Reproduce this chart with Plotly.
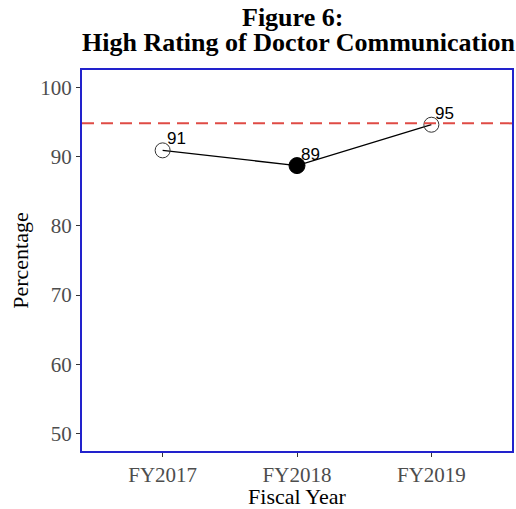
import plotly.graph_objects as go

years = ["FY2017", "FY2018", "FY2019"]
values = [90.9, 88.7, 94.6]
labels = ["91", "89", "95"]
benchmark = 94.8
y_ticks = [50, 60, 70, 80, 90, 100]
title_lines = ["Figure 6:", "High Rating of Doctor Communication"]

xs = list(range(len(years)))
serif = "Liberation Serif, Times New Roman, serif"
sans = "Liberation Sans, Arial, sans-serif"

fig = go.Figure()
fig.add_hline(y=benchmark, line=dict(color="#df4b45", width=2, dash="12px,7px"))
fig.add_trace(go.Scatter(
    x=xs, y=values, mode="lines+markers",
    line=dict(color="black", width=1.3),
    marker=dict(symbol=["circle-open", "circle", "circle-open"],
                size=[15, 16, 15], color=["#333333", "#000000", "#333333"],
                opacity=1,
                line=dict(color=["#333333", "#000000", "#333333"], width=1)),
    showlegend=False, hoverinfo="skip"))

for x, v, t in zip(xs, values, labels):
    fig.add_annotation(x=x, y=v, text=t, showarrow=False,
                       xanchor="left", yanchor="bottom", xshift=2, yshift=0,
                       font=dict(family=sans, size=17, color="black"))

fig.add_annotation(x=0.49, y=1.1365, xref="paper", yref="paper",
                   text="<b>%s</b>" % title_lines[0], showarrow=False,
                   xanchor="center", yanchor="middle",
                   font=dict(family=serif, size=26, color="black"))
fig.add_annotation(x=0.503, y=1.0709, xref="paper", yref="paper",
                   text="<b>%s</b>" % title_lines[1], showarrow=False,
                   xanchor="center", yanchor="middle",
                   font=dict(family=serif, size=26, color="black"))

fig.update_layout(
    width=516, height=509,
    margin=dict(l=82, r=4, t=70, b=58, autoexpand=False),
    paper_bgcolor="white", plot_bgcolor="white",
    hovermode=False,
    xaxis=dict(range=[-0.6, 2.6], tickvals=xs, ticktext=years,
               showgrid=False, zeroline=False,
               showline=True, linecolor="#2222cc", linewidth=2, mirror=True,
               ticks="outside", ticklen=4, tickcolor="#333333",
               tickfont=dict(family=serif, size=21, color="#4d4d4d"),
               title=dict(text="Fiscal Year", standoff=9,
                          font=dict(family=serif, size=22, color="black"))),
    yaxis=dict(range=[47.5, 102.5], tickvals=y_ticks,
               showgrid=False, zeroline=False,
               showline=True, linecolor="#2222cc", linewidth=2, mirror=True,
               ticks="outside", ticklen=4, tickcolor="#333333",
               tickfont=dict(family=serif, size=21, color="#4d4d4d"),
               title=dict(text="Percentage", standoff=6,
                          font=dict(family=serif, size=22, color="black"))),
)
fig.write_html(
    "out.html",
    config={"displayModeBar": False},
    post_script=("document.body.style.margin='0';"
                 "document.documentElement.style.overflow='hidden';"
                 "document.body.style.overflow='hidden';"))
